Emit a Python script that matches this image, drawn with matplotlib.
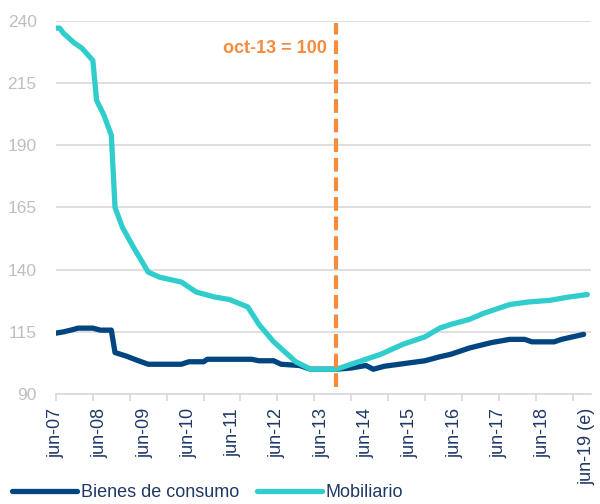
import matplotlib.pyplot as plt

# month offsets from jun-07
meses_mob = [0, 1, 2, 5, 7, 10, 11, 13, 15, 16, 18, 21, 25, 28, 34, 38, 43, 47, 52, 55,
             59, 62, 65, 69, 76, 82, 88, 94, 100, 104, 107, 112, 116, 123, 128, 134, 139, 144]
mobiliario = [237, 237, 235, 231, 229, 224, 208, 202, 194, 165, 157, 149, 139, 137, 135, 131,
              129, 128, 125, 118, 111, 107, 103, 100, 100, 103, 106, 110, 113, 116.5, 118,
              120, 122.5, 126, 127, 127.7, 129, 130]

meses_bie = [0, 2, 4, 6, 10, 12, 15, 16, 19, 22, 25, 34, 36, 40, 41, 53, 55, 59, 61, 66,
             69, 76, 80, 84, 86, 89, 93, 100, 104, 107, 112, 118, 123, 127, 129, 135, 137,
             140, 143]
bienes = [114.5, 115, 115.7, 116.5, 116.5, 115.7, 115.7, 106.7, 105.3, 103.6, 102, 102, 103,
          103, 104, 104, 103.4, 103.4, 102, 101.5, 100, 100, 100.5, 101.5, 100, 101.2, 102,
          103.4, 105, 106, 108.5, 110.7, 112, 112, 111, 111, 112, 113, 114]

etiquetas = ["jun-07", "jun-08", "jun-09", "jun-10", "jun-11", "jun-12", "jun-13",
             "jun-14", "jun-15", "jun-16", "jun-17", "jun-18", "jun-19 (e)"]
base_mes = 76  # oct-13

plt.rcParams["font.family"] = ["Liberation Sans", "DejaVu Sans"]

fig = plt.figure(figsize=(6, 5.04), dpi=100)
ax = fig.add_axes([0.0933, 0.218, 0.8917, 0.741])

ax.plot(meses_bie, bienes, color="#00457F", lw=3.8, solid_capstyle="round",
        label="Bienes de consumo", zorder=3)
ax.plot(meses_mob, mobiliario, color="#31CDCD", lw=3.8, solid_capstyle="round",
        label="Mobiliario", zorder=4)

ax.plot([base_mes, base_mes], [93, 239], color="#F58B3C", lw=3, dashes=(3.3, 1.4), zorder=5)
ax.text(base_mes - 2.5, 229, "oct-13 = 100", color="#F58B3C", fontsize=13,
        fontweight="bold", ha="right", va="center")

ax.set_xlim(0, 145)
ax.set_ylim(90, 240)
ax.set_yticks(range(90, 241, 25))
ax.grid(axis="y", color="#D9D9D9", lw=1.2)
ax.set_axisbelow(True)

for s in ["top", "right", "left"]:
    ax.spines[s].set_visible(False)
ax.spines["bottom"].set_color("#D9D9D9")
ax.spines["bottom"].set_linewidth(1.2)

# tick marks every 10 months, labels every 12
ax.xaxis.remove_overlapping_locs = False
ax.set_xticks(range(0, 145, 10))
ax.set_xticklabels([])
ax.tick_params(axis="x", which="major", length=5, width=1.2, color="#D9D9D9")
ax.set_xticks(range(0, 145, 12), minor=True)
ax.set_xticklabels(etiquetas, minor=True, rotation=90, fontsize=13, color="#1F3864")
ax.tick_params(axis="x", which="minor", length=0, pad=10)
ax.tick_params(axis="y", length=0, pad=14, labelsize=12.5, labelcolor="#BFBFBF")

leg = fig.legend(loc="center left", bbox_to_anchor=(0.02, 0.022), ncol=2, frameon=False,
                 fontsize=13, handlelength=3.6, handletextpad=0.2, columnspacing=1.0,
                 borderaxespad=0, borderpad=0)
for t in leg.get_texts():
    t.set_color("#1F3864")

fig.savefig("out.png", dpi=100)
